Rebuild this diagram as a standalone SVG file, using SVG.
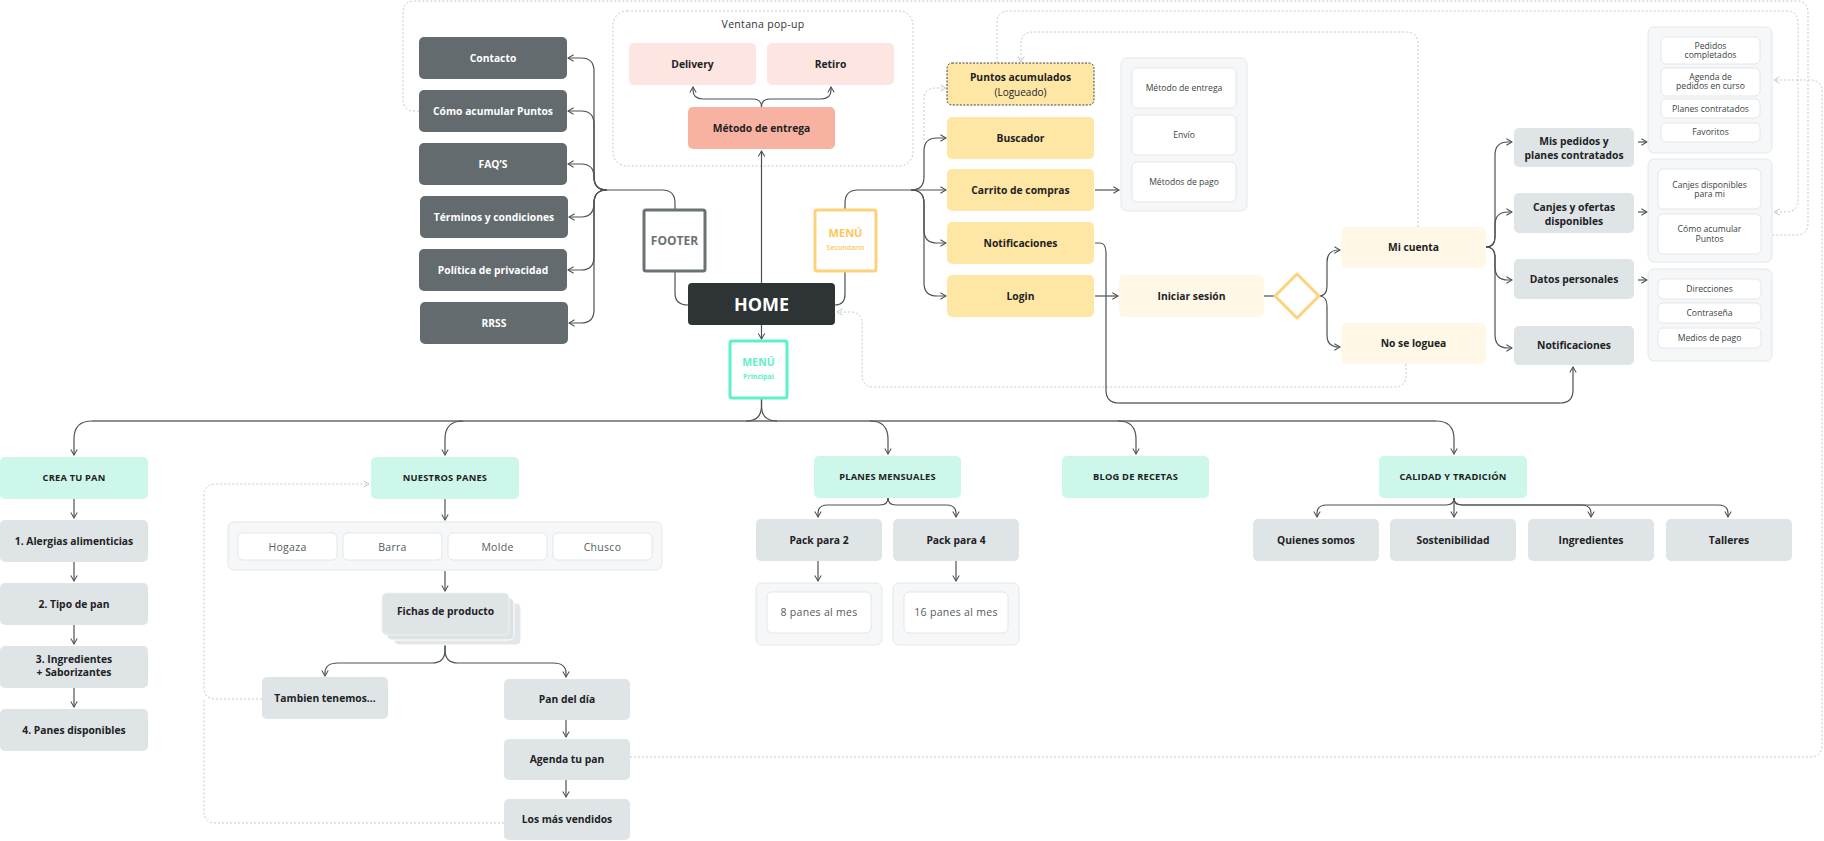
<svg xmlns="http://www.w3.org/2000/svg" width="1824" height="841" viewBox="0 0 1824 841">
<style>
text{font-family:"Open Sans","Liberation Sans",sans-serif;text-anchor:middle}
.b{font-weight:700;font-size:10.3px;fill:#1e2224}
.w{fill:#fff}
.cap{font-weight:700;font-size:9.3px;fill:#1e2224;letter-spacing:0.2px}
.s{font-size:8.6px;fill:#3a3f41}
.m{font-size:10.5px;fill:#555b5e;letter-spacing:0.3px}
.ft{fill:#636b6e}
.yl{fill:#fee6a4}
.ly{fill:#fff8e6}
.gr{fill:#dfe4e7}
.mn{fill:#cdf7eb}
.pn{fill:#f5f7f8;stroke:#e2e8ea;stroke-width:1}
.it{fill:#fff;stroke:#e3e7ea;stroke-width:1}
.c{stroke:#4c5254;stroke-width:1.2;fill:none}
.ca{marker-end:url(#ah)}
.h{stroke:#8a8f91;stroke-width:2;fill:none}
.d{stroke:#c2c7c9;stroke-width:1;stroke-dasharray:2 2;fill:none}
.da{marker-end:url(#ahd)}
</style>
<defs>
<marker id="ah" viewBox="0 0 10 10" refX="9" refY="5" markerWidth="8" markerHeight="8" orient="auto" markerUnits="userSpaceOnUse"><path d="M2,1 L9,5 L2,9" fill="none" stroke="#4c5254" stroke-width="1.3"/></marker>
<marker id="ahd" viewBox="0 0 10 10" refX="9" refY="5" markerWidth="8" markerHeight="8" orient="auto" markerUnits="userSpaceOnUse"><path d="M2,1 L9,5 L2,9" fill="none" stroke="#c2c7c9" stroke-width="1.2"/></marker>
</defs>
<rect width="1824" height="841" fill="#fff"/>

<g id="connectors">
<path class="d da" d="M419,111 H415 Q403,111 403,99 V13 Q403,1 415,1 H1796 Q1808,1 1808,13 V223 Q1808,235 1796,235 H1764"/>
<path class="d da" d="M997,63 V23 Q997,11 1009,11 H1786 Q1798,11 1798,23 V200 Q1798,212 1786,212 H1774"/>
<path class="d da" d="M1418,227 V44 Q1418,32 1406,32 H1033 Q1021,32 1021,44 V62"/>
<path class="d da" d="M630,757 H1810 Q1822,757 1822,745 V92 Q1822,80 1810,80 H1774"/>
<path class="d da" d="M1406,364 V375 Q1406,387 1394,387 H874 Q862,387 862,375 V324 Q862,312 850,312 H837"/>
<path class="d da" d="M924,140 V100 Q924,88 936,88 H946"/>
<path class="d da" d="M262,699 H216 Q204,699 204,687 V496 Q204,484 216,484 H369"/>
<path class="d" d="M504,823 H216 Q204,823 204,811 V699"/>
<rect x="613" y="11" width="300" height="155" rx="14" class="d"/>

<path class="c" d="M675,210 V203 Q675,190 662,190 H607"/>
<path class="c ca" d="M607,190 Q594,190 594,177 V71 Q594,58 581,58 H568"/>
<path class="c ca" d="M607,190 Q594,190 594,177 V124 Q594,111 581,111 H568"/>
<path class="c ca" d="M607,190 Q594,190 594,177 Q594,164 581,164 H568"/>
<path class="c ca" d="M607,190 Q594,190 594,203 Q594,217 581,217 H569"/>
<path class="c ca" d="M607,190 Q594,190 594,203 V257 Q594,270 581,270 H568"/>
<path class="c ca" d="M607,190 Q594,190 594,203 V310 Q594,323 581,323 H569"/>
<path class="c" d="M675,271 V293 Q675,305 688,305"/>
<path class="c" d="M845,271 V294 Q845,305 835,305"/>
<path class="c" d="M845,210 V203 Q845,190 858,190 H911"/>
<path class="c ca" d="M911,190 H946"/>
<path class="c ca" d="M911,190 Q924,190 924,177 V151 Q924,138 937,138 H946"/>
<path class="c ca" d="M911,190 Q924,190 924,203 V230 Q924,243 937,243 H946"/>
<path class="c ca" d="M911,190 Q924,190 924,203 V283 Q924,296 937,296 H946"/>
<path class="c ca" d="M1095,190 H1119"/>
<path class="c ca" d="M1095,296 H1118"/>
<path class="c" d="M1264,296 H1275"/>
<path class="c ca" d="M1319,296 Q1327,296 1327,286 V262 Q1327,250 1339,250 H1340"/>
<path class="c ca" d="M1319,296 Q1327,296 1327,306 V335 Q1327,347 1339,347 H1340"/>
<path class="c" d="M1095,243 H1100 Q1106,243 1106,253 V390 Q1106,403 1119,403"/>
<path class="h" d="M1119,403 H1560"/>
<path class="c ca" d="M1560,403 Q1573,403 1573,390 V367"/>
<path class="c ca" d="M1486,247 Q1495,247 1495,237 V155 Q1495,142 1508,142 H1512"/>
<path class="c ca" d="M1486,247 Q1495,247 1495,237 V225 Q1495,212 1508,212 H1512"/>
<path class="c ca" d="M1486,247 Q1495,247 1495,257 V267 Q1495,280 1508,280 H1512"/>
<path class="c ca" d="M1486,247 Q1495,247 1495,257 V335 Q1495,348 1508,348 H1512"/>
<path class="c ca" d="M1638,142 H1647"/>
<path class="c ca" d="M1638,212 H1647"/>
<path class="c ca" d="M1638,280 H1647"/>
<path class="c ca" d="M761.5,283 V151"/>
<path class="c ca" d="M761.5,107 Q761.5,99 753,99 H703 Q693,99 693,90 V87"/>
<path class="c ca" d="M761.5,107 Q761.5,99 770,99 H821 Q831,99 831,90 V87"/>
<path class="c ca" d="M761.5,325 V339"/>
<path class="h" d="M92,421 H1436"/>
<path class="c" d="M761.5,398 V406 Q761.5,421 746,421"/>
<path class="c" d="M761.5,398 V406 Q761.5,421 777,421"/>
<path class="c ca" d="M92,421 Q74,421 74,439 V455"/>
<path class="c ca" d="M463,421 Q445,421 445,439 V455"/>
<path class="c ca" d="M870,421 Q888,421 888,439 V454"/>
<path class="c ca" d="M1118,421 Q1136,421 1136,439 V454"/>
<path class="c ca" d="M1436,421 Q1454,421 1454,439 V454"/>
<path class="c ca" d="M74,499 V518"/>
<path class="c ca" d="M74,562 V581"/>
<path class="c ca" d="M74,625 V644"/>
<path class="c ca" d="M74,688 V707"/>
<path class="c ca" d="M445,499 V520"/>
<path class="c ca" d="M445,571 V591"/>
<path class="c ca" d="M445,635 V650 Q445,663 432,663 H338 Q325,663 325,673 V676"/>
<path class="c ca" d="M445,635 V650 Q445,663 458,663 H553 Q566,663 566,673 V677"/>
<path class="c ca" d="M566,720 V737"/>
<path class="c ca" d="M566,780 V797"/>
<path class="c ca" d="M888,498 Q888,505 880,505 H828 Q818,505 818,513 V517"/>
<path class="c ca" d="M888,498 Q888,505 896,505 H946 Q956,505 956,513 V517"/>
<path class="c ca" d="M818,561 V581"/>
<path class="c ca" d="M956,561 V581"/>
<path class="c ca" d="M1454,498 Q1454,505 1446,505 H1327 Q1317,505 1317,513 V517"/>
<path class="c ca" d="M1454,498 V517"/>
<path class="c ca" d="M1454,498 Q1454,505 1462,505 H1581 Q1591,505 1591,513 V517"/>
<path class="c ca" d="M1454,498 Q1454,505 1462,505 H1718 Q1728,505 1728,513 V517"/>
</g>

<g id="footer-items">
<g id="n-contacto"><rect x="419" y="37" width="148" height="42" rx="5" class="ft"/><text x="493" y="61.6" class="b w">Contacto</text></g>
<g id="n-acumular"><rect x="419" y="90" width="148" height="42" rx="5" class="ft"/><text x="493" y="114.6" class="b w">Cómo acumular Puntos</text></g>
<g id="n-faq"><rect x="419" y="143" width="148" height="42" rx="5" class="ft"/><text x="493" y="167.6" class="b w">FAQ’S</text></g>
<g id="n-terminos"><rect x="420" y="196" width="148" height="42" rx="5" class="ft"/><text x="494" y="220.6" class="b w">Términos y condiciones</text></g>
<g id="n-politica"><rect x="419" y="249" width="148" height="42" rx="5" class="ft"/><text x="493" y="273.6" class="b w">Política de privacidad</text></g>
<g id="n-rrss"><rect x="420" y="302" width="148" height="42" rx="5" class="ft"/><text x="494" y="326.6" class="b w">RRSS</text></g>
</g>

<g id="n-footer"><rect x="644" y="210" width="61" height="61" rx="2" fill="#fff" stroke="#6a7275" stroke-width="3"/><text x="674.5" y="244.5" style="font-weight:700;font-size:12px;fill:#6a7275">FOOTER</text></g>
<g id="n-menu-sec"><rect x="815" y="210" width="61" height="61" rx="2" fill="#fff" stroke="#fdd27c" stroke-width="3"/><text x="845.5" y="237" style="font-weight:700;font-size:11px;fill:#fcc659">MENÚ</text><text x="845.5" y="250" style="font-weight:600;font-size:7px;fill:#fcc659">Secundario</text></g>
<g id="n-home"><rect x="688" y="283" width="147" height="42" rx="4" fill="#2e3335"/><text x="761.5" y="310.5" style="font-weight:700;font-size:18px;fill:#fff">HOME</text></g>
<g id="n-menu-pri"><rect x="730" y="341" width="57" height="57" rx="2" fill="#fff" stroke="#5ef0c9" stroke-width="3"/><text x="758.5" y="366" style="font-weight:700;font-size:10.5px;fill:#5ef0c9">MENÚ</text><text x="758.5" y="379" style="font-weight:700;font-size:7px;fill:#5ef0c9">Principal</text></g>

<g id="popup">
<text x="763" y="28" style="font-size:10.5px;fill:#333;letter-spacing:0.3px">Ventana pop-up</text>
<g id="n-delivery"><rect x="629" y="43" width="127" height="42" rx="5" fill="#fde6e1"/><text x="692.5" y="67.6" class="b">Delivery</text></g>
<g id="n-retiro"><rect x="767" y="43" width="127" height="42" rx="5" fill="#fde6e1"/><text x="830.5" y="67.6" class="b">Retiro</text></g>
<g id="n-metodo"><rect x="688" y="107" width="147" height="42" rx="5" fill="#f8b2a1"/><text x="761.5" y="131.6" class="b">Método de entrega</text></g>
</g>

<g id="menu-sec-items">
<g id="n-puntos"><rect x="947" y="63" width="147" height="42" rx="5" class="yl" stroke="#3a3f41" stroke-width="1" stroke-dasharray="2 1.5"/><text x="1020.5" y="81" class="b">Puntos acumulados</text><text x="1020.5" y="96" style="font-size:10px;fill:#1e2224">(Logueado)</text></g>
<g id="n-buscador"><rect x="947" y="117" width="147" height="42" rx="5" class="yl"/><text x="1020.5" y="141.6" class="b">Buscador</text></g>
<g id="n-carrito"><rect x="947" y="169" width="147" height="42" rx="5" class="yl"/><text x="1020.5" y="193.6" class="b">Carrito de compras</text></g>
<g id="n-notif"><rect x="947" y="222" width="147" height="42" rx="5" class="yl"/><text x="1020.5" y="246.6" class="b">Notificaciones</text></g>
<g id="n-login"><rect x="947" y="275" width="147" height="42" rx="5" class="yl"/><text x="1020.5" y="299.6" class="b">Login</text></g>
</g>

<g id="n-carrito-panel">
<rect x="1121" y="58" width="126" height="153" rx="6" class="pn"/>
<rect x="1132" y="68" width="104" height="40" rx="5" class="it"/><text x="1184" y="91" class="s">Método de entrega</text>
<rect x="1132" y="115" width="104" height="40" rx="5" class="it"/><text x="1184" y="138" class="s">Envío</text>
<rect x="1132" y="162" width="104" height="40" rx="5" class="it"/><text x="1184" y="185" class="s">Métodos de pago</text>
</g>

<g id="n-iniciar"><rect x="1119" y="275" width="145" height="42" rx="5" class="ly"/><text x="1191.5" y="299.6" class="b">Iniciar sesión</text></g>
<g id="n-decision"><polygon points="1297,274 1319,296 1297,318 1275,296" fill="#fff" stroke="#fdd27c" stroke-width="3" stroke-linejoin="round"/></g>
<g id="n-micuenta"><rect x="1341" y="227" width="145" height="41" rx="5" class="ly"/><text x="1413.5" y="251.2" class="b">Mi cuenta</text></g>
<g id="n-noseloguea"><rect x="1341" y="323" width="145" height="41" rx="5" class="ly"/><text x="1413.5" y="347.2" class="b">No se loguea</text></g>

<g id="account">
<g id="n-mispedidos"><rect x="1514" y="128" width="120" height="39" rx="5" class="gr"/><text x="1574" y="144.5" class="b">Mis pedidos y</text><text x="1574" y="158.5" class="b">planes contratados</text></g>
<g id="n-canjes"><rect x="1514" y="193" width="120" height="40" rx="5" class="gr"/><text x="1574" y="210.5" class="b">Canjes y ofertas</text><text x="1574" y="224.5" class="b">disponibles</text></g>
<g id="n-datos"><rect x="1514" y="259" width="120" height="40" rx="5" class="gr"/><text x="1574" y="282.6" class="b">Datos personales</text></g>
<g id="n-notif2"><rect x="1514" y="326" width="120" height="39" rx="5" class="gr"/><text x="1574" y="349.1" class="b">Notificaciones</text></g>
<g id="n-panel-pedidos">
<rect x="1648" y="27" width="124" height="126" rx="6" class="pn"/>
<rect x="1661" y="37" width="99" height="27" rx="5" class="it"/><text x="1710.5" y="48.8" class="s">Pedidos</text><text x="1710.5" y="58" class="s">completados</text>
<rect x="1661" y="68" width="99" height="28" rx="5" class="it"/><text x="1710.5" y="79.8" class="s">Agenda de</text><text x="1710.5" y="89" class="s">pedidos en curso</text>
<rect x="1661" y="99" width="99" height="19" rx="5" class="it"/><text x="1710.5" y="111.6" class="s">Planes contratados</text>
<rect x="1661" y="123" width="99" height="19" rx="5" class="it"/><text x="1710.5" y="135" class="s">Favoritos</text>
</g>
<g id="n-panel-canjes">
<rect x="1648" y="159" width="124" height="103" rx="6" class="pn"/>
<rect x="1658" y="169" width="103" height="40" rx="5" class="it"/><text x="1709.5" y="187.8" class="s">Canjes disponibles</text><text x="1709.5" y="197" class="s">para mi</text>
<rect x="1658" y="214" width="103" height="40" rx="5" class="it"/><text x="1709.5" y="232.3" class="s">Cómo acumular</text><text x="1709.5" y="241.7" class="s">Puntos</text>
</g>
<g id="n-panel-datos">
<rect x="1648" y="269" width="124" height="92" rx="6" class="pn"/>
<rect x="1658" y="279" width="103" height="20" rx="5" class="it"/><text x="1709.5" y="292" class="s">Direcciones</text>
<rect x="1658" y="303" width="103" height="20" rx="5" class="it"/><text x="1709.5" y="316" class="s">Contraseña</text>
<rect x="1658" y="328" width="103" height="20" rx="5" class="it"/><text x="1709.5" y="340.5" class="s">Medios de pago</text>
</g>
</g>

<g id="crea-tu-pan">
<g id="n-crea"><rect x="0" y="457" width="148" height="42" rx="5" class="mn"/><text x="74" y="481.3" class="cap">CREA TU PAN</text></g>
<g id="n-alergias"><rect x="0" y="520" width="148" height="42" rx="5" class="gr"/><text x="74" y="544.6" class="b">1. Alergias alimenticias</text></g>
<g id="n-tipo"><rect x="0" y="583" width="148" height="42" rx="5" class="gr"/><text x="74" y="607.6" class="b">2. Tipo de pan</text></g>
<g id="n-ingr"><rect x="0" y="646" width="148" height="42" rx="5" class="gr"/><text x="74" y="662.5" class="b">3. Ingredientes</text><text x="74" y="676.2" class="b">+ Saborizantes</text></g>
<g id="n-panesdisp"><rect x="0" y="709" width="148" height="42" rx="5" class="gr"/><text x="74" y="733.6" class="b">4. Panes disponibles</text></g>
</g>

<g id="nuestros-panes">
<g id="n-nuestros"><rect x="371" y="457" width="148" height="42" rx="5" class="mn"/><text x="445" y="481.3" class="cap">NUESTROS PANES</text></g>
<g id="n-panes-panel">
<rect x="228" y="522" width="434" height="48" rx="6" class="pn"/>
<rect x="238" y="533" width="99" height="27" rx="5" class="it"/><text x="287.5" y="550.5" class="m">Hogaza</text>
<rect x="343" y="533" width="99" height="27" rx="5" class="it"/><text x="392.5" y="550.5" class="m">Barra</text>
<rect x="448" y="533" width="99" height="27" rx="5" class="it"/><text x="497.5" y="550.5" class="m">Molde</text>
<rect x="553" y="533" width="99" height="27" rx="5" class="it"/><text x="602.5" y="550.5" class="m">Chusco</text>
</g>
<g id="n-fichas">
<rect x="394" y="603" width="127" height="42" rx="5" fill="#e3e7ea" stroke="#fff" stroke-width="1"/>
<rect x="387" y="598" width="127" height="42" rx="5" fill="#dde2e5" stroke="#fff" stroke-width="1"/>
<rect x="382" y="593" width="127" height="42" rx="5" class="gr" stroke="#f0f2f3" stroke-width="1"/>
<text x="445.5" y="614.6" class="b">Fichas de producto</text>
</g>
<g id="n-tambien"><rect x="262" y="677" width="126" height="42" rx="5" class="gr"/><text x="325" y="701.6" class="b">Tambien tenemos...</text></g>
<g id="n-pandeldia"><rect x="504" y="679" width="126" height="41" rx="5" class="gr"/><text x="567" y="703.1" class="b">Pan del día</text></g>
<g id="n-agenda"><rect x="504" y="739" width="126" height="41" rx="5" class="gr"/><text x="567" y="763.1" class="b">Agenda tu pan</text></g>
<g id="n-masvendidos"><rect x="504" y="799" width="126" height="41" rx="5" class="gr"/><text x="567" y="823.1" class="b">Los más vendidos</text></g>
</g>

<g id="planes">
<g id="n-planes"><rect x="814" y="456" width="147" height="42" rx="5" class="mn"/><text x="887.5" y="480.3" class="cap">PLANES MENSUALES</text></g>
<g id="n-pack2"><rect x="756" y="519" width="126" height="42" rx="5" class="gr"/><text x="819" y="543.6" class="b">Pack para 2</text></g>
<g id="n-pack4"><rect x="893" y="519" width="126" height="42" rx="5" class="gr"/><text x="956" y="543.6" class="b">Pack para 4</text></g>
<g id="n-8panes"><rect x="756" y="583" width="126" height="62" rx="6" class="pn"/><rect x="767" y="592" width="104" height="41" rx="5" class="it"/><text x="819" y="616.2" class="m">8 panes al mes</text></g>
<g id="n-16panes"><rect x="893" y="583" width="126" height="62" rx="6" class="pn"/><rect x="904" y="592" width="104" height="41" rx="5" class="it"/><text x="956" y="616.2" class="m">16 panes al mes</text></g>
</g>

<g id="n-blog"><rect x="1062" y="456" width="147" height="42" rx="5" class="mn"/><text x="1135.5" y="480.3" class="cap">BLOG DE RECETAS</text></g>

<g id="calidad">
<g id="n-calidad"><rect x="1379" y="456" width="148" height="42" rx="5" class="mn"/><text x="1453" y="480.3" class="cap">CALIDAD Y TRADICIÓN</text></g>
<g id="n-quienes"><rect x="1253" y="519" width="126" height="42" rx="5" class="gr"/><text x="1316" y="543.6" class="b">Quienes somos</text></g>
<g id="n-sosten"><rect x="1390" y="519" width="126" height="42" rx="5" class="gr"/><text x="1453" y="543.6" class="b">Sostenibilidad</text></g>
<g id="n-ingredientes"><rect x="1528" y="519" width="126" height="42" rx="5" class="gr"/><text x="1591" y="543.6" class="b">Ingredientes</text></g>
<g id="n-talleres"><rect x="1666" y="519" width="126" height="42" rx="5" class="gr"/><text x="1729" y="543.6" class="b">Talleres</text></g>
</g>
</svg>
